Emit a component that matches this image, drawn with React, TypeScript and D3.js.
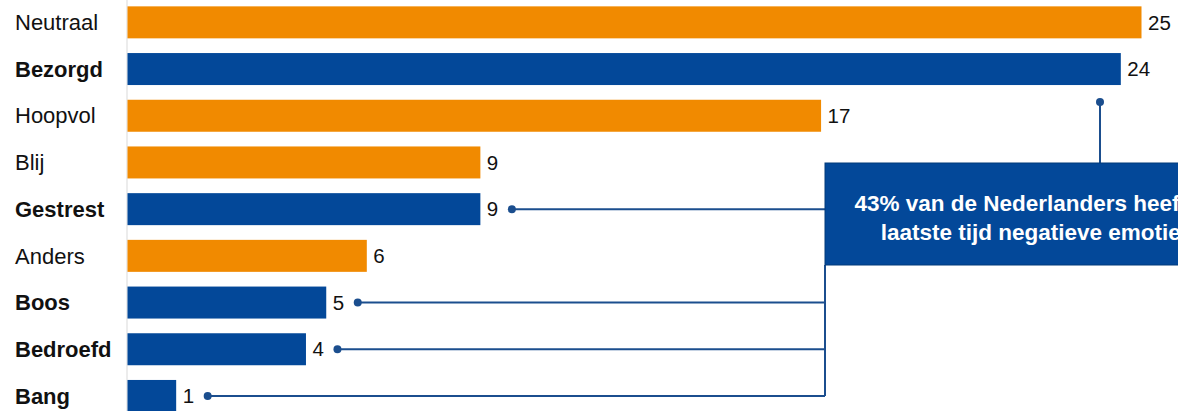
import React from 'react';
import * as d3 from 'd3';

// emotions, top to bottom
const categories = ['Neutraal', 'Bezorgd', 'Hoopvol', 'Blij', 'Gestrest', 'Anders', 'Boos', 'Bedroefd', 'Bang'];
const values = [25.0, 24.49, 17.1, 8.7, 8.7, 5.9, 4.9, 4.4, 1.2];
const negative = [false, true, false, false, true, false, true, true, true];
const calloutLines = ['43% van de Nederlanders heeft de', 'laatste tijd negatieve emoties'];

const ORANGE = '#f18a00';
const BLUE = '#034899';
const LINE = '#1b4e8e';

const W = 1178;
const H = 411;

const App: React.FC = () => {
  const x = d3.scaleLinear().domain([0, 25]).range([127, 1141]);
  const y = d3.scaleBand<string>()
    .domain(categories)
    .range([-1, 419.3])
    .paddingInner(0.315)
    .paddingOuter(0.1575);

  const bw = y.bandwidth();
  const cy = (c: string) => (y(c) || 0) + bw / 2;
  const fmt = d3.format('.0f');

  // callout box
  const box = { x: 825, y: 163, w: 420, h: 102 };
  const textCx = 1037;

  const rows = categories.map((c, i) => ({ c, v: values[i], neg: negative[i] }));
  const linked = rows.filter(r => r.neg && r.c !== 'Bezorgd');
  const lastY = cy(linked[linked.length - 1].c);
  const bezX = 1100;
  const bezY = (y('Bezorgd') || 0) + bw + 17;

  return (
    <svg width={W} height={H} style={{ position: 'absolute', left: 0, top: 0, background: '#fff' }}
      fontFamily="'Liberation Sans', Arial, sans-serif">
      <line x1={x(0)} x2={x(0)} y1={0} y2={H} stroke="#d9d9d9" strokeWidth={1} />
      {rows.map(r => (
        <g key={r.c}>
          <text x={15} y={cy(r.c)} dy="0.35em" fontSize={22} fontWeight={r.neg ? 'bold' : 'normal'} fill="#111">{r.c}</text>
          <rect x={x(0) + 0.5} y={y(r.c)} width={x(r.v) - x(0)} height={bw} fill={r.neg ? BLUE : ORANGE} />
          <text x={x(r.v) + 7} y={cy(r.c)} dy="0.35em" fontSize={20.5} fill="#111">{fmt(r.v)}</text>
        </g>
      ))}

      {/* connectors */}
      <g stroke={LINE} strokeWidth={2} fill="none">
        <line x1={bezX} x2={bezX} y1={bezY} y2={box.y} />
        {linked.map(r => (
          <line key={r.c} x1={x(r.v) + 32} x2={box.x} y1={cy(r.c)} y2={cy(r.c)} />
        ))}
        <line x1={box.x} x2={box.x} y1={box.y + box.h} y2={lastY} />
      </g>
      <g fill={LINE}>
        <circle cx={bezX} cy={bezY} r={4} />
        {linked.map(r => (
          <circle key={r.c} cx={x(r.v) + 32} cy={cy(r.c)} r={4} />
        ))}
      </g>

      <rect x={box.x} y={box.y} width={box.w} height={box.h} fill={BLUE} stroke="#033a7a" strokeWidth={1} />
      {calloutLines.map((t, i) => (
        <text key={i} x={textCx} y={box.y + 40 + i * 29} dy="0.35em" textAnchor="middle" fontSize={22.5}
          fontWeight="bold" fill="#fff">{t}</text>
      ))}
    </svg>
  );
};

export default App;
